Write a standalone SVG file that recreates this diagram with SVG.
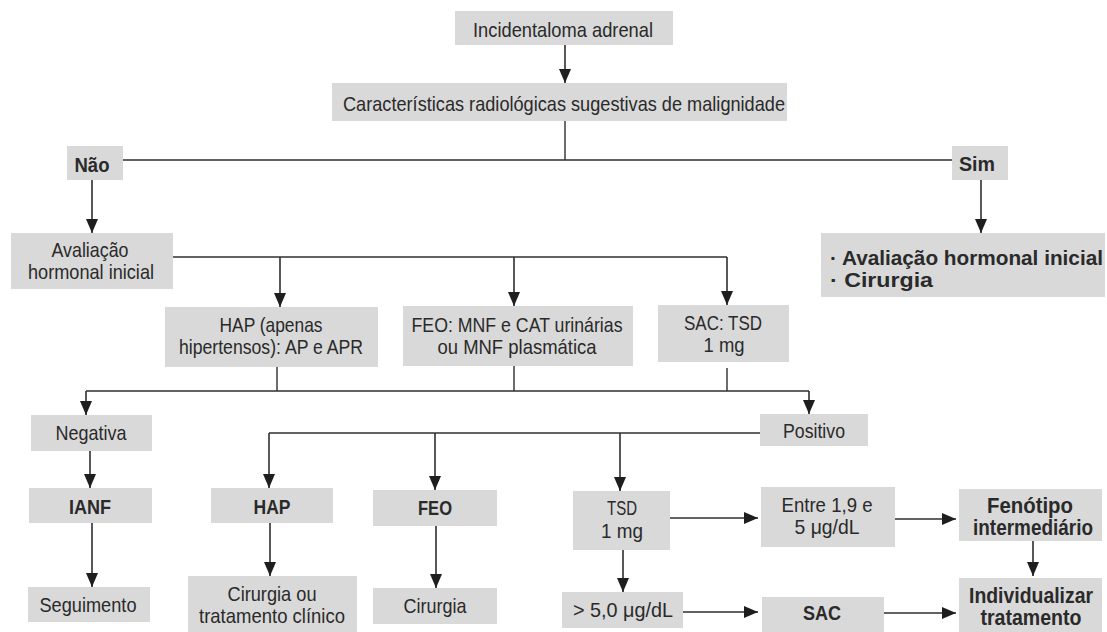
<svg xmlns="http://www.w3.org/2000/svg" width="1107" height="632" viewBox="0 0 1107 632">
<style>
.box{fill:#d9d9d9}
text{font-family:"Liberation Sans Narrow","Liberation Sans",Arial,sans-serif;font-size:21px;fill:#2a2a2a;text-anchor:middle}
.b{font-weight:bold}
.L{font-size:21.5px}
.s{text-anchor:start}
.c{fill:none;stroke:#2f2f2f;stroke-width:1.4}
.a{fill:none;stroke:#2f2f2f;stroke-width:1.6;marker-end:url(#ah)}
</style>
<defs>
<marker id="ah" viewBox="0 0 14 12" refX="14" refY="6" markerWidth="14" markerHeight="12" markerUnits="userSpaceOnUse" orient="auto">
<path d="M0,0 L14,6 L0,12 z" fill="#1e1e1e"/>
</marker>
</defs>
<rect width="1107" height="632" fill="#ffffff"/>
<g id="connectors">
<path class="a" d="M565,45 V83"/>
<path class="c" d="M565,121 V160 M123,160 H952"/>
<path class="a" d="M92,180 V233"/>
<path class="a" d="M981,180 V233"/>
<path class="c" d="M173,257 H727"/>
<path class="a" d="M280,257 V307"/>
<path class="a" d="M514,257 V306"/>
<path class="a" d="M727,257 V305"/>
<path class="c" d="M277,367 V391 M514,366 V391 M727,368 V391 M86,391 H809"/>
<path class="a" d="M86,391 V415"/>
<path class="a" d="M809,391 V414"/>
<path class="a" d="M90,451 V488"/>
<path class="a" d="M92,523 V587"/>
<path class="c" d="M269,433 H760"/>
<path class="a" d="M269,433 V488"/>
<path class="a" d="M435,433 V490"/>
<path class="a" d="M620,433 V491"/>
<path class="a" d="M270,523 V576"/>
<path class="a" d="M436,526 V588"/>
<path class="a" d="M623,550 V592"/>
<path class="a" d="M670,518 H758"/>
<path class="a" d="M895,519 H956"/>
<path class="a" d="M1033,541 V576"/>
<path class="a" d="M683,612 H758"/>
<path class="a" d="M884,613 H956"/>
</g>
<g id="n1"><rect class="box" x="455" y="11" width="218" height="34"/><text x="563" y="37" textLength="180" lengthAdjust="spacingAndGlyphs">Incidentaloma adrenal</text></g>
<g id="n2"><rect class="box" x="332" y="83" width="455" height="38"/><text x="564" y="111" textLength="442" lengthAdjust="spacingAndGlyphs">Características radiológicas sugestivas de malignidade</text></g>
<g id="n3"><rect class="box" x="67" y="146" width="56" height="34"/><text class="b" x="92" y="172" textLength="35" lengthAdjust="spacingAndGlyphs">Não</text></g>
<g id="n4"><rect class="box" x="952" y="146" width="56" height="34"/><text class="b" x="977" y="171" textLength="36" lengthAdjust="spacingAndGlyphs">Sim</text></g>
<g id="n5"><rect class="box" x="11" y="233" width="162" height="56"/><text x="90" y="257" textLength="77" lengthAdjust="spacingAndGlyphs">Avaliação</text><text x="91" y="279" textLength="126" lengthAdjust="spacingAndGlyphs">hormonal inicial</text></g>
<g id="n6"><rect class="box" x="821" y="233" width="284" height="64"/><text class="b s" x="830" y="265" textLength="273" lengthAdjust="spacingAndGlyphs">· Avaliação hormonal inicial</text><text class="b s" x="830" y="287" textLength="103" lengthAdjust="spacingAndGlyphs">· Cirurgia</text></g>
<g id="n7"><rect class="box" x="165" y="307" width="213" height="60"/><text x="271" y="332" textLength="103" lengthAdjust="spacingAndGlyphs">HAP (apenas</text><text x="271" y="354" textLength="184" lengthAdjust="spacingAndGlyphs">hipertensos): AP e APR</text></g>
<g id="n8"><rect class="box" x="403" y="306" width="230" height="60"/><text x="517" y="332" textLength="211" lengthAdjust="spacingAndGlyphs">FEO: MNF e CAT urinárias</text><text x="517" y="354" textLength="159" lengthAdjust="spacingAndGlyphs">ou MNF plasmática</text></g>
<g id="n9"><rect class="box" x="658" y="305" width="131" height="57"/><text x="723" y="330" textLength="78" lengthAdjust="spacingAndGlyphs">SAC: TSD</text><text x="724" y="352" textLength="41" lengthAdjust="spacingAndGlyphs">1 mg</text></g>
<g id="n10"><rect class="box" x="31" y="415" width="121" height="36"/><text x="91" y="440" textLength="71" lengthAdjust="spacingAndGlyphs">Negativa</text></g>
<g id="n11"><rect class="box" x="760" y="414" width="108" height="32"/><text x="814" y="438" textLength="62" lengthAdjust="spacingAndGlyphs">Positivo</text></g>
<g id="n12"><rect class="box" x="29" y="488" width="123" height="35"/><text class="b" x="90" y="514" textLength="42" lengthAdjust="spacingAndGlyphs">IANF</text></g>
<g id="n13"><rect class="box" x="211" y="488" width="122" height="35"/><text class="b" x="272" y="514" textLength="37" lengthAdjust="spacingAndGlyphs">HAP</text></g>
<g id="n14"><rect class="box" x="373" y="490" width="124" height="36"/><text class="b" x="435" y="515" textLength="34" lengthAdjust="spacingAndGlyphs">FEO</text></g>
<g id="n15"><rect class="box" x="573" y="491" width="97" height="59"/><text x="622" y="515" textLength="30" lengthAdjust="spacingAndGlyphs">TSD</text><text x="622" y="538" textLength="42" lengthAdjust="spacingAndGlyphs">1 mg</text></g>
<g id="n16"><rect class="box" x="761" y="487" width="134" height="60"/><text x="827" y="512" textLength="91" lengthAdjust="spacingAndGlyphs">Entre 1,9 e</text><text x="827" y="534" textLength="65" lengthAdjust="spacingAndGlyphs">5 μg/dL</text></g>
<g id="n17"><rect class="box" x="959" y="489" width="143" height="52"/><text class="b L" x="1030" y="513" textLength="86" lengthAdjust="spacingAndGlyphs">Fenótipo</text><text class="b L" x="1033" y="535" textLength="120" lengthAdjust="spacingAndGlyphs">intermediário</text></g>
<g id="n18"><rect class="box" x="28" y="587" width="122" height="35"/><text x="88" y="612" textLength="97" lengthAdjust="spacingAndGlyphs">Seguimento</text></g>
<g id="n19"><rect class="box" x="188" y="576" width="169" height="56"/><text x="272" y="601" textLength="89" lengthAdjust="spacingAndGlyphs">Cirurgia ou</text><text x="272" y="623" textLength="146" lengthAdjust="spacingAndGlyphs">tratamento clínico</text></g>
<g id="n20"><rect class="box" x="373" y="588" width="124" height="36"/><text x="435" y="613" textLength="63" lengthAdjust="spacingAndGlyphs">Cirurgia</text></g>
<g id="n21"><rect class="box" x="562" y="592" width="121" height="36"/><text x="623" y="617" textLength="100" lengthAdjust="spacingAndGlyphs">&gt; 5,0 μg/dL</text></g>
<g id="n22"><rect class="box" x="762" y="597" width="122" height="35"/><text class="b" x="822" y="620" textLength="38" lengthAdjust="spacingAndGlyphs">SAC</text></g>
<g id="n23"><rect class="box" x="959" y="578" width="143" height="54"/><text class="b L" x="1031" y="603" textLength="124" lengthAdjust="spacingAndGlyphs">Individualizar</text><text class="b L" x="1031" y="625" textLength="101" lengthAdjust="spacingAndGlyphs">tratamento</text></g>
</svg>
